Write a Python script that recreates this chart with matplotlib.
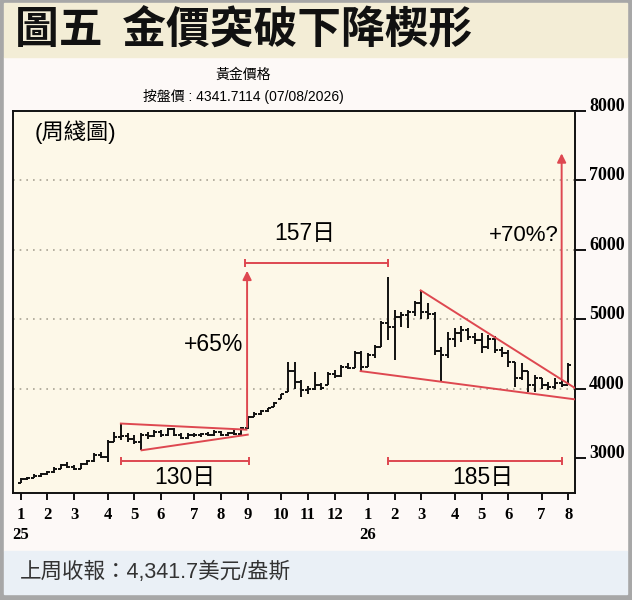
import matplotlib
matplotlib.use("Agg")
import matplotlib.pyplot as plt
from matplotlib.patches import Rectangle
import numpy as np

plt.rcParams['font.family'] = ['Liberation Sans', 'Noto Sans CJK TC']

# weekly OHLC, gold price (Jan 2025 - Aug 2026)
opens = [2650, 2700, 2720, 2750, 2770, 2800, 2850, 2900, 2880, 2850,
         2920, 2960, 3040, 3020, 3240, 3300, 3320, 3280, 3230, 3340,
         3320, 3380, 3340, 3420, 3340, 3290, 3340, 3330, 3350, 3340,
         3380, 3340, 3360, 3350, 3430, 3590, 3640, 3680, 3740, 3860,
         3950, 4250, 4100, 3980, 4000, 4060, 4060, 4220, 4180, 4320,
         4300, 4520, 4320, 4480, 4600, 4950, 4890, 5030, 5060, 5100,
         5230, 5100, 5080, 4550, 4480, 4720, 4800, 4850, 4750, 4700,
         4600, 4720, 4560, 4520, 4380, 4150, 4250, 4050, 4150, 4060,
         4020, 4080, 4050]
highs = [2710, 2730, 2770, 2790, 2820, 2870, 2920, 2940, 2900, 2930,
         2980, 3070, 3090, 3260, 3380, 3500, 3360, 3340, 3360, 3380,
         3400, 3400, 3440, 3440, 3370, 3360, 3360, 3370, 3380, 3400,
         3390, 3380, 3400, 3450, 3600, 3660, 3690, 3730, 3810, 3930,
         4380, 4380, 4120, 4040, 4240, 4080, 4240, 4265, 4340, 4370,
         4550, 4550, 4510, 4630, 4980, 5610, 5130, 5100, 5130, 5270,
         5420, 5230, 5100, 4600, 4820, 4870, 4910, 4870, 4800, 4800,
         4770, 4760, 4600, 4560, 4390, 4370, 4260, 4200, 4160, 4100,
         4150, 4120, 4370]
lows = [2640, 2680, 2710, 2730, 2760, 2790, 2840, 2860, 2830, 2840,
        2900, 2950, 3000, 2950, 3230, 3260, 3230, 3210, 3115, 3280,
        3300, 3300, 3320, 3320, 3280, 3280, 3300, 3310, 3320, 3320,
        3320, 3320, 3340, 3340, 3420, 3590, 3630, 3670, 3740, 3860,
        3950, 4000, 3880, 3930, 3990, 3990, 4050, 4160, 4170, 4280,
        4300, 4260, 4310, 4450, 4600, 4700, 4410, 4890, 4870, 5050,
        5010, 5010, 4480, 4100, 4440, 4600, 4670, 4700, 4640, 4510,
        4580, 4510, 4460, 4310, 4025, 4120, 3950, 3950, 4000, 3980,
        4000, 4020, 4050]
closes = [2700, 2720, 2750, 2770, 2800, 2850, 2900, 2880, 2850, 2920,
          2960, 3040, 3020, 3240, 3300, 3320, 3280, 3230, 3340, 3320,
          3380, 3340, 3420, 3340, 3290, 3340, 3330, 3350, 3340, 3380,
          3340, 3360, 3350, 3430, 3590, 3640, 3680, 3720, 3790, 3920,
          4250, 4100, 3980, 4000, 4060, 4010, 4220, 4180, 4320, 4300,
          4520, 4320, 4480, 4600, 4950, 4890, 5030, 5060, 5100, 5230,
          5100, 5080, 4550, 4480, 4720, 4800, 4850, 4750, 4700, 4600,
          4720, 4560, 4520, 4380, 4150, 4250, 4050, 4150, 4060, 4020,
          4080, 4050, 4342]

month_weeks = [0, 4, 8, 13, 17, 21, 26, 30, 34, 39, 43, 47, 52, 56, 60, 65, 69, 73, 78, 82]
month_labels = ['1', '2', '3', '4', '5', '6', '7', '8', '9', '10', '11', '12',
                '1', '2', '3', '4', '5', '6', '7', '8']
year_weeks = [0, 52]
year_labels = ['25', '26']
price_ticks = [3000, 4000, 5000, 6000, 7000, 8000]
grid_levels = [4000, 5000, 6000, 7000]

# pattern lines (week, price)
pennant_top = [(15.0, 3500), (33.8, 3412)]
pennant_bot = [(18.1, 3115), (34.0, 3340)]
wedge_top = [(59.9, 5417), (83.0, 4011)]
wedge_bot = [(50.9, 4255), (83.0, 3848)]

RED = '#de4850'

fig = plt.figure(figsize=(6.32, 6.0), dpi=100)
fig.patches.append(Rectangle((0, 0), 1, 1, transform=fig.transFigure, color='#a7a7a7', zorder=-10))
fig.patches.append(Rectangle((4/632, 1 - 551/600), 623/632, 494/600, transform=fig.transFigure,
                             color='#fdf9f7', zorder=-9))
fig.patches.append(Rectangle((4/632, 1 - 57/600), 623/632, 54/600, transform=fig.transFigure,
                             color='#f3edd6', zorder=-9))
fig.patches.append(Rectangle((4/632, 6/600), 623/632, 43/600, transform=fig.transFigure,
                             color='#eaf0f6', zorder=-9))

fig.text(15/632, 1 - 31/600, '圖五  金價突破下降楔形', fontsize=31.5, fontweight='bold',
         family='Noto Sans CJK TC', va='center', ha='left', color='#111111')
fig.text(243/632, 1 - 75/600, '黃金價格', fontsize=10, ha='center', va='center')
fig.text(243/632, 1 - 96/600, '按盤價 : 4341.7114 (07/08/2026)', fontsize=10, ha='center', va='center')
fig.text(20/632, 1 - 572/600, '上周收報：4,341.7美元/盎斯', fontsize=15.5, ha='left', va='center',
         color='#333333')

ax = fig.add_axes([13/632, 1 - 493/600, 562/632, 382/600])
ax.set_facecolor('#fdf8e8')

w = np.arange(len(closes))
ax.vlines(w, lows, highs, color='#111111', lw=1.4, zorder=3)
ax.hlines(opens, w - 0.45, w, color='#111111', lw=1.4, zorder=3)
ax.hlines(closes, w, w + 0.45, color='#111111', lw=1.4, zorder=3)

for g in grid_levels:
    ax.axhline(g, color='#a9a394', lw=1.2, ls=(0, (1, 3)), zorder=1)

for seg in (pennant_top, pennant_bot, wedge_top, wedge_bot):
    xs, ys = zip(*seg)
    ax.plot(xs, ys, color=RED, lw=1.4, zorder=4)

# duration brackets
for x0, x1, y in [(15.0, 34.2, 2955), (33.6, 55.0, 5810), (55.0, 81.1, 2955)]:
    ax.plot([x0, x1], [y, y], color=RED, lw=1.4, marker='|', markersize=6, mew=1.4, zorder=4)

# target arrows
for x, y0, y1 in [(33.9, 3450, 5700), (81.0, 4150, 7390)]:
    ax.annotate('', xy=(x, y1), xytext=(x, y0),
                arrowprops=dict(arrowstyle='-|>', color=RED, lw=1.4, mutation_scale=13,
                                shrinkA=0, shrinkB=0), zorder=4)

ax.text(24.6, 2720, '130日', fontsize=16.5, ha='center', va='center')
ax.text(42.6, 6236, '157日', fontsize=16.5, ha='center', va='center')
ax.text(69.2, 2720, '185日', fontsize=16.5, ha='center', va='center')
ax.text(33.3, 4640, '+65%', fontsize=16.5, ha='right', va='center')
ax.text(80.5, 6205, '+70%?', fontsize=16, ha='right', va='center')
ax.text(0.039, 0.945, '(周綫圖)', transform=ax.transAxes, fontsize=16, ha='left', va='center')

ax.set_xlim(-1.15, 83.0)
ax.set_ylim(2500, 8000)

ax.set_xticks(month_weeks)
ax.set_xticklabels(month_labels, family='Liberation Serif', fontweight='bold', fontsize=12)
ax.tick_params(axis='x', direction='out', length=5, width=1.3, pad=5)
for xw, yl in zip(year_weeks, year_labels):
    ax.text(xw, -0.11, yl, transform=ax.get_xaxis_transform(), ha='center', va='center',
            family='Liberation Serif', fontweight='bold', fontsize=12)

ax.yaxis.tick_right()
ax.set_yticks(price_ticks)
ax.set_yticklabels([str(p) for p in price_ticks], family='Liberation Serif', fontweight='bold',
                   fontsize=13)
ax.tick_params(axis='y', direction='out', length=8, width=1.3, pad=2)
for lbl in ax.get_yticklabels():
    lbl.set_verticalalignment('baseline')

for s in ax.spines.values():
    s.set_linewidth(1.4)
    s.set_color('#111111')

fig.savefig('out.png', dpi=100)
